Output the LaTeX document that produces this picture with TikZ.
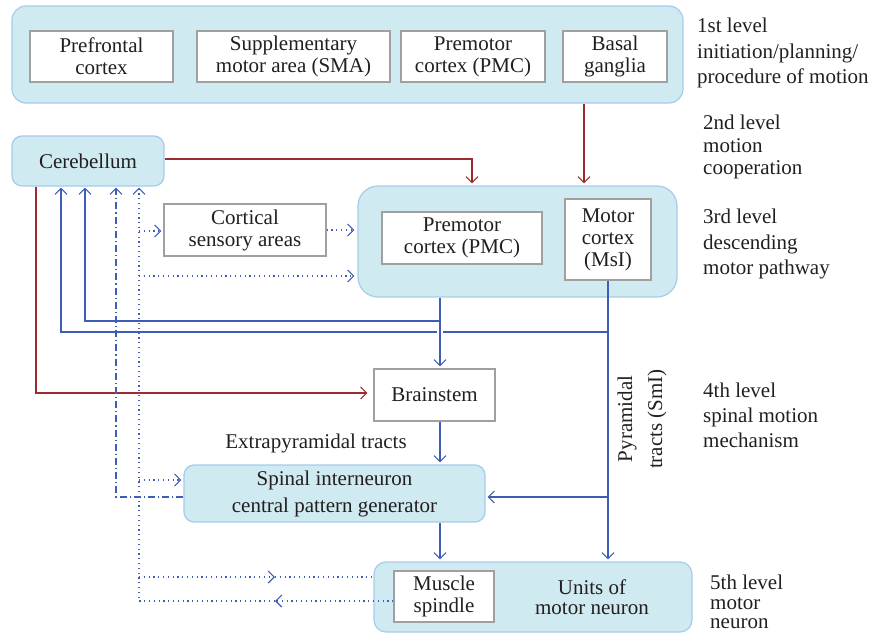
\documentclass[tikz,border=0pt]{standalone}
\usepackage{fontspec}
\setmainfont{Liberation Serif}
\usetikzlibrary{arrows.meta}
\definecolor{cfill}{HTML}{CFEAF0}
\definecolor{cborder}{HTML}{A6CBEB}
\definecolor{gboxc}{HTML}{A0A0A0}
\definecolor{blc}{HTML}{3E5DB6}
\definecolor{rdc}{HTML}{9D2B2F}
\definecolor{txtc}{HTML}{231F20}
\begin{document}
\begin{tikzpicture}[x=1pt,y=-1pt,
  every node/.style={font=\fontsize{21}{22}\selectfont, text=txtc, inner sep=0pt, align=center},
  lvl/.style={draw=cborder, fill=cfill, line width=1.2pt, rounded corners=14pt},
  wbox/.style={draw=gboxc, fill=white, line width=1.2pt},
  bl/.style={draw=blc, line width=1.1pt},
  rd/.style={draw=rdc, line width=1.1pt},
  tipend/.style={-{Straight Barb[length=6pt,width=12pt]}, shorten >=2pt},
  dotl/.style={dash pattern=on 1.2pt off 3.6pt},
  dashdot/.style={dash pattern=on 7pt off 3pt on 1.2pt off 3pt},
  lvltext/.style={anchor=west, align=left}
]
\useasboundingbox (0,0) rectangle (874,634);

% level 1
\node[lvl, minimum width=671pt, minimum height=97pt] (l1) at (347.5,54.5) {};
\node[wbox, minimum width=143pt, minimum height=51pt] (pf) at (101.5,56.5) {Prefrontal\\cortex};
\node[wbox, minimum width=193pt, minimum height=51pt] (sma) at (293.5,56.5) {Supplementary\\motor area (SMA)};
\node[wbox, minimum width=144pt, minimum height=51pt] (pmca) at (473,56.5) {Premotor\\cortex (PMC)};
\node[wbox, minimum width=104pt, minimum height=51pt] (bg) at (615,56.5) {Basal\\ganglia};

% cerebellum
\node[lvl, rounded corners=10pt, minimum width=152pt, minimum height=50pt] (cb) at (88,161) {Cerebellum};

% level 3
\node[lvl, rounded corners=20pt, minimum width=319pt, minimum height=111pt] (l3) at (517.5,241.5) {};
\node[wbox, minimum width=160pt, minimum height=52pt] (pmcb) at (462,238) {Premotor\\cortex (PMC)};
\node[wbox, minimum width=86pt, minimum height=81pt] (mc) at (608,239.5) {Motor\\cortex\\(MsI)};

% cortical sensory
\node[wbox, minimum width=162pt, minimum height=52pt] (cs) at (245,230) {Cortical\\sensory areas};

% brainstem
\node[wbox, minimum width=121pt, minimum height=52pt] (bs) at (434.5,395) {Brainstem};

% spinal
\node[lvl, rounded corners=10pt, minimum width=301pt, minimum height=57pt, font=\fontsize{21}{27}\selectfont] (sp) at (334.5,493.5) {Spinal interneuron\\central pattern generator};

% units
\node[lvl, rounded corners=12pt, minimum width=318pt, minimum height=70pt] (un) at (533,597) {};
\node[wbox, minimum width=100pt, minimum height=51pt] (ms) at (444,596.5) {Muscle\\spindle};
\node[font=\fontsize{21}{20}\selectfont] (unt) at (592,597) {Units of\\motor neuron};

% labels
\node (ext) at (316,443) {Extrapyramidal tracts};
\node[rotate=90, font=\fontsize{21}{30}\selectfont] (pyr) at (642,419) {Pyramidal\\tracts (SmI)};

\node[lvltext, font=\fontsize{21}{25.5}\selectfont] (t1) at (697,53) {1st level\\initiation/planning/\\procedure of motion};
\node[lvltext, font=\fontsize{21}{22.5}\selectfont] (t2) at (703,147) {2nd level\\motion\\cooperation};
\node[lvltext, font=\fontsize{21}{25.5}\selectfont] (t3) at (703,244) {3rd level\\descending\\motor pathway};
\node[lvltext, font=\fontsize{21}{25}\selectfont] (t4) at (703,415) {4th level\\spinal motion\\mechanism};
\node[lvltext, font=\fontsize{21}{19.5}\selectfont] (t5) at (710,602) {5th level\\motor\\neuron};

% red connectors
\coordinate (xa) at (472,159);
\draw[rd, tipend] (cb.east |- xa) -| (xa |- l3.north);
\coordinate (xb) at (584,0);
\draw[rd, tipend] (xb |- l1.south) -- (xb |- l3.north);
\coordinate (xc) at (36,393);
\draw[rd, tipend, shorten >=6pt] (xc |- cb.south) -- (xc) -- (xc -| bs.west);

% blue connectors
\coordinate (xp) at (440,0);
\draw[bl, tipend] (xp |- l3.south) -- (xp |- bs.north);
\draw[bl, tipend] (xp |- bs.south) -- (xp |- sp.north);
\draw[bl, tipend] (xp |- sp.south) -- (xp |- un.north);
\draw[bl, tipend] (mc.south) -- (mc.south |- un.north);
\coordinate (ybr) at (0,497);
\draw[bl, tipend] (mc.south |- ybr) -- (sp.east |- ybr);
\coordinate (c85) at (85,321);
\draw[bl, tipend, shorten >=1pt] (xp |- c85) -- (c85) -- (c85 |- cb.south);
\coordinate (c61) at (61,332);
\draw[bl, tipend, shorten >=1pt] (mc.south |- c61) -- ([xshift=3pt]xp |- c61) ([xshift=-3pt]xp |- c61) -- (c61) -- (c61 |- cb.south);

% dash-dot
\coordinate (c116) at (116,497);
\draw[bl, dashdot, tipend, shorten >=1pt] (sp.west |- c116) -- (c116) -- (c116 |- cb.south);

% dotted
\coordinate (c139a) at (139,601);
\coordinate (m1) at (275,601);
\draw[bl, dotl, tipend, shorten >=0pt] (ms.west |- c139a) -- (m1);
\draw[bl, dotl, tipend, shorten >=1pt] (m1) -- (c139a) -- (c139a |- cb.south);
\coordinate (c139b) at (139,231);
\draw[bl, dotl, tipend] (c139b) -- (cs.west |- c139b);
\coordinate (c139c) at (139,276);
\draw[bl, dotl, tipend, shorten >=3pt] (c139c) -- (l3.west |- c139c);
\coordinate (c139d) at (139,480);
\draw[bl, dotl, tipend] (c139d) -- (sp.west |- c139d);
\coordinate (c139e) at (139,577);
\coordinate (m2) at (275,577);
\draw[bl, dotl, tipend, shorten >=0pt] (c139e) -- (m2);
\draw[bl, dotl] (m2) -- (un.west |- m2);
\draw[bl, dotl, tipend, shorten >=3pt] (cs.east) -- (l3.west |- cs.east);
\end{tikzpicture}
\end{document}
